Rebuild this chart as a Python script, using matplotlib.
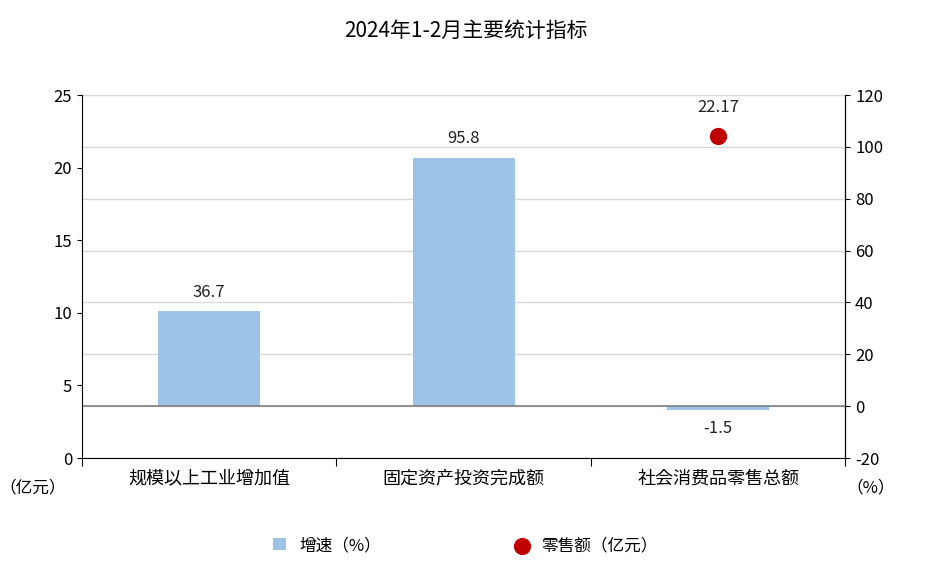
import matplotlib
matplotlib.use("Agg")
import matplotlib.pyplot as plt

plt.rcParams["font.family"] = "sans-serif"
plt.rcParams["font.sans-serif"] = ["Noto Sans CJK SC", "Noto Sans CJK JP", "DejaVu Sans"]
plt.rcParams["axes.unicode_minus"] = False

categories = ["规模以上工业增加值", "固定资产投资完成额", "社会消费品零售总额"]
growth = [36.7, 95.8, -1.5]
retail_idx = 2
retail_value = 22.17

fig = plt.figure(figsize=(9.31, 5.69), dpi=100)
axL = fig.add_axes([0.088, 0.195, 0.82, 0.638])
axR = axL.twinx()

x = list(range(len(categories)))
axR.bar(x, growth, width=0.4, color="#9dc3e6", zorder=3, label="增速（%）")
for xi, v in zip(x, growth):
    axR.text(xi, v + 4 if v >= 0 else v - 4, f"{v}", ha="center",
             va="bottom" if v >= 0 else "top", fontsize=12, color="#222")
axR.axhline(0, color="#808080", lw=1.2, zorder=4)
axR.set_ylim(-20, 120)
axR.set_yticks(range(-20, 121, 20))
axR.grid(axis="y", color="#d9d9d9", lw=1, zorder=0)
axR.set_axisbelow(True)

axL.scatter([retail_idx], [retail_value], s=130, color="#c00000", zorder=5, label="零售额（亿元）")
axL.text(retail_idx, retail_value + 1.4, f"{retail_value}", ha="center", va="bottom", fontsize=12, color="#222")
axL.set_ylim(0, 25)
axL.set_yticks(range(0, 26, 5))
axL.set_zorder(axR.get_zorder() + 1)
axL.patch.set_visible(False)

axL.set_xlim(-0.5, 2.5)
axL.set_xticks([-0.5, 0.5, 1.5, 2.5])
axL.set_xticklabels([])
axL.set_xticks(x, minor=True)
axL.set_xticklabels(categories, minor=True, fontsize=13)
axL.tick_params(axis="x", which="minor", length=0, pad=8)
axL.tick_params(axis="x", which="major", length=6)

for ax in (axL, axR):
    ax.spines["top"].set_visible(False)
    ax.tick_params(axis="y", labelsize=12)
axR.spines["left"].set_visible(False)
axR.spines["bottom"].set_visible(False)

fig.text(0.035, 0.135, "（亿元）", fontsize=12, ha="center")
fig.text(0.935, 0.135, "（%）", fontsize=12, ha="center")
fig.suptitle("2024年1-2月主要统计指标", y=0.965, fontsize=15)

h1, l1 = axR.get_legend_handles_labels()
h2, l2 = axL.get_legend_handles_labels()
fig.legend(h1 + h2, l1 + l2, loc="lower center", ncol=2, frameon=False,
           fontsize=12, bbox_to_anchor=(0.5, 0.0), columnspacing=8, handlelength=0.8)

fig.savefig("out.png", dpi=100)
